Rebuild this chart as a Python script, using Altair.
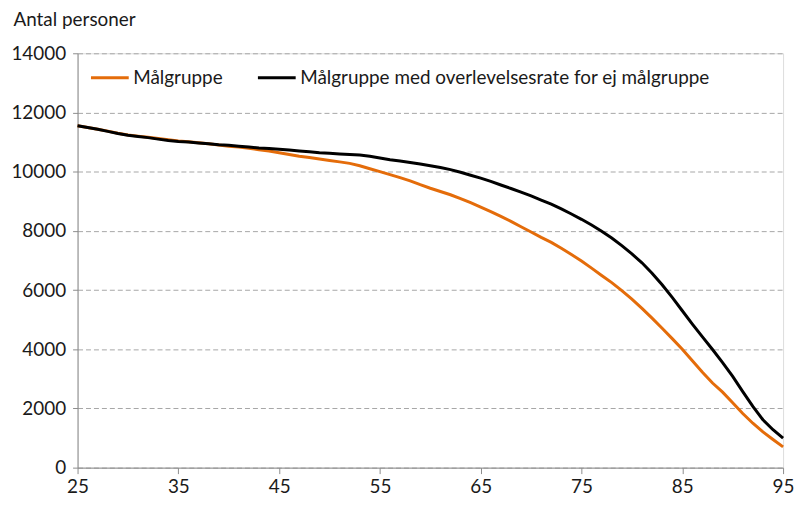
import altair as alt
import pandas as pd

ages = list(range(25, 96))

malgruppe = [
    11550, 11490, 11430, 11370, 11300, 11240, 11200, 11160, 11120, 11080,
    11040, 11010, 10980, 10940, 10900, 10860, 10830, 10790, 10740, 10700,
    10640, 10580, 10520, 10480, 10430, 10380, 10330, 10280, 10200, 10100,
    10000, 9900, 9800, 9690, 9560, 9440, 9330, 9220, 9090, 8950,
    8800, 8650, 8490, 8320, 8140, 7960, 7780, 7610, 7410, 7200,
    6980, 6740, 6490, 6250, 5980, 5690, 5380, 5050, 4710, 4360,
    4000, 3610, 3220, 2860, 2550, 2190, 1830, 1500, 1210, 950,
    700,
]

malgruppe_overlevelse = [
    11550, 11490, 11430, 11360, 11290, 11230, 11190, 11150, 11100, 11050,
    11020, 11000, 10970, 10940, 10910, 10890, 10860, 10830, 10800, 10780,
    10760, 10730, 10700, 10670, 10640, 10620, 10600, 10580, 10560, 10520,
    10460, 10400, 10360, 10310, 10260, 10200, 10140, 10070, 9980, 9880,
    9780, 9670, 9550, 9430, 9310, 9180, 9040, 8900, 8740, 8570,
    8390, 8200, 7990, 7760, 7500, 7220, 6920, 6570, 6180, 5750,
    5300, 4850, 4420, 3990, 3550, 3080, 2570, 2070, 1620, 1280,
    1000,
]

series_names = ["Målgruppe", "Målgruppe med overlevelsesrate for ej målgruppe"]
series_colors = ["#E46C0A", "#000000"]
x_ticks = [25, 35, 45, 55, 65, 75, 85, 95]
y_ticks = [0, 2000, 4000, 6000, 8000, 10000, 12000, 14000]

rows = []
for i, a in enumerate(ages):
    rows.append({"alder": a, "antal": malgruppe[i], "serie": series_names[0], "ord": 0})
for i, a in enumerate(ages):
    rows.append({"alder": a, "antal": malgruppe_overlevelse[i], "serie": series_names[1], "ord": 1})
df = pd.DataFrame(rows)

FONT = "Lato"
TXT = "#1a1a1a"
FS = 19

chart = alt.Chart(df).mark_line(strokeWidth=3).encode(
    x=alt.X(
        "alder:Q",
        scale=alt.Scale(domain=[25, 95], nice=False, zero=False),
        axis=alt.Axis(
            values=x_ticks,
            format="d",
            title=None,
            grid=False,
            domainColor="#8c8c8c",
            tickColor="#8c8c8c",
            tickSize=6,
            labelFontSize=FS,
            labelColor=TXT,
            labelFont=FONT,
            labelPadding=4,
            labelFlush=False,
        ),
    ),
    y=alt.Y(
        "antal:Q",
        scale=alt.Scale(domain=[0, 14000], nice=False),
        axis=alt.Axis(
            values=y_ticks,
            format="d",
            title="Antal personer",
            titleAngle=0,
            titleAlign="left",
            titleBaseline="alphabetic",
            titleX=-65,
            titleY=-28,
            titleFontSize=FS,
            titleFontWeight="normal",
            titleColor=TXT,
            titleFont=FONT,
            grid=True,
            gridColor="#a6a6a6",
            gridDash=[5, 3],
            gridWidth=1,
            domainColor="#8c8c8c",
            tickColor="#8c8c8c",
            tickSize=5,
            labelFontSize=FS,
            labelColor=TXT,
            labelFont=FONT,
            labelPadding=7,
        ),
    ),
    color=alt.Color(
        "serie:N",
        scale=alt.Scale(domain=series_names, range=series_colors),
        sort=series_names,
        title=None,
        legend=alt.Legend(
            orient="none",
            legendX=12,
            legendY=4,
            direction="horizontal",
            symbolType="stroke",
            symbolSize=1444,
            symbolStrokeWidth=3,
            labelFontSize=FS,
            labelFont=FONT,
            labelColor=TXT,
            labelOffset=3,
            labelLimit=0,
            columnPadding=28,
        ),
    ),
    order=alt.Order("ord:Q"),
).properties(
    width=710,
    height=417,
    autosize=alt.AutoSizeParams(type="none"),
    padding={"left": 70, "top": 44, "right": 12, "bottom": 29},
).configure_view(stroke=None).configure(background="white")

chart.save("out.html", embed_options={"renderer": "svg", "actions": False})
